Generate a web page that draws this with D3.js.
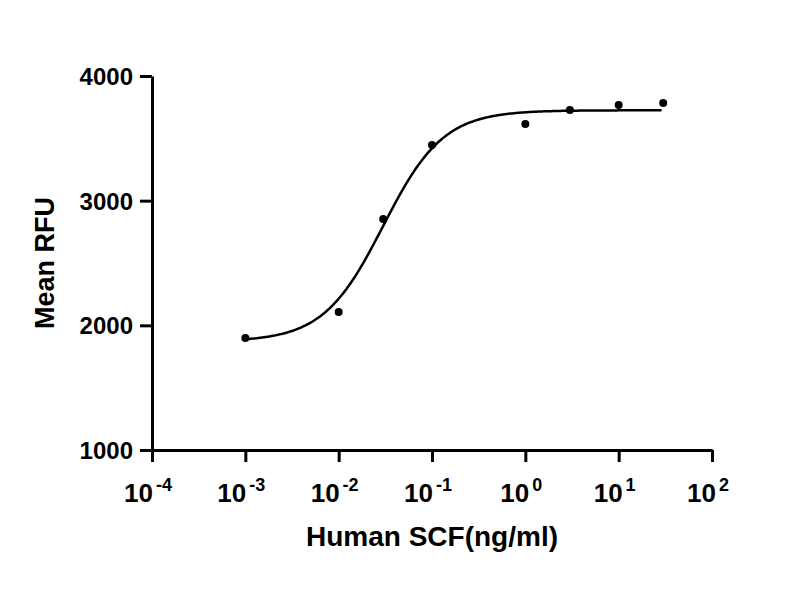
<!DOCTYPE html><html><head><script src="https://d3js.org/d3.v7.min.js"></script>
<style>body{margin:0;background:#fff}text{font-family:"Liberation Sans",Arial,sans-serif;font-weight:bold}</style></head><body>
<svg id="c" width="800" height="600"></svg>
<script>
const concentrations=[0.001,0.01,0.03,0.1,1,3,10,30];
const meanRFU=[1898,2107,2852,3446,3614,3727,3767,3783];
const xTickExponents=[-4,-3,-2,-1,0,1,2];
const yTicks=[1000,2000,3000,4000];
const fit={bottom:1870,top:3725,ec50:0.03,hill:1.35};
const svg=d3.select("#c");
const x=d3.scaleLog().domain([1e-4,1e2]).range([152,712]);
const y=d3.scaleLinear().domain([1000,4000]).range([450,76]);
const xa=svg.append("g").attr("transform","translate(0,450)")
 .call(d3.axisBottom(x).tickValues(xTickExponents.map(e=>Math.pow(10,e))).tickSize(12).tickSizeOuter(0).tickFormat(""));
const ya=svg.append("g").attr("transform","translate(152,0)")
 .call(d3.axisLeft(y).tickValues(yTicks).tickSize(12).tickSizeOuter(0).tickFormat(""));
[xa,ya].forEach(a=>{a.selectAll("path,line").style("stroke","#000").style("stroke-width","3px");});
xTickExponents.forEach(e=>{
 const t=svg.append("text").attr("x",x(Math.pow(10,e))-4).attr("y",502).attr("text-anchor","middle").attr("font-size",26);
 t.append("tspan").text("10");
 t.append("tspan").attr("dy",-11).attr("dx",3).attr("font-size",18).text(e);
});
yTicks.forEach(v=>svg.append("text").attr("x",133).attr("y",y(v)+9).attr("text-anchor","end").attr("font-size",24).text(v));
svg.append("text").attr("x",432).attr("y",546).attr("text-anchor","middle").attr("font-size",28).text("Human SCF(ng/ml)");
svg.append("text").attr("transform","translate(54,263) rotate(-90)").attr("text-anchor","middle").attr("font-size",27).text("Mean RFU");
const f=c=>fit.bottom+(fit.top-fit.bottom)/(1+Math.pow(fit.ec50/c,fit.hill));
const xs=d3.range(-3,Math.log10(30)+0.001,0.02).map(e=>Math.pow(10,e));
svg.append("path").attr("d",d3.line().x(c=>x(c)).y(c=>y(f(c)))(xs)).attr("fill","none").attr("stroke","#000").attr("stroke-width",2.5);
svg.selectAll("circle").data(concentrations).join("circle").attr("cx",d=>x(d)).attr("cy",(d,i)=>y(meanRFU[i])).attr("r",4).attr("fill","#000");
</script></body></html>
